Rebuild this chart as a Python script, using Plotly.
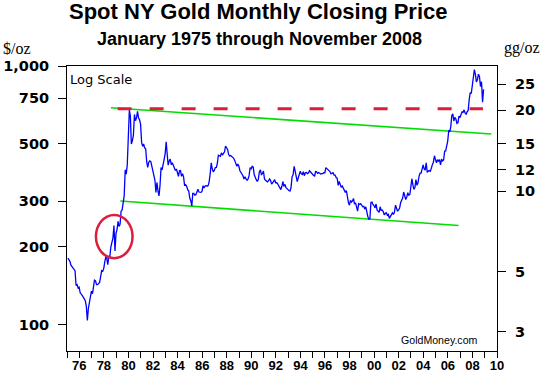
import math
import plotly.graph_objects as go

# ---- monthly closing prices ($/oz) ----
p1975 = [181, 178, 176, 170, 168, 166, 165, 162, 142, 143, 139, 140]
p1976 = [133, 132, 130, 128, 126, 124, 118, 104, 116, 123, 130, 135]
p1977 = [132, 143, 149, 148, 143, 143, 145, 146, 154, 162, 161, 165]
p1978 = [175, 183, 181, 171, 184, 184, 200, 208, 217, 242, 193, 226]
p1979 = [234, 251, 240, 245, 275, 278, 296, 315, 397, 382, 416, 524]
p1980 = [675, 640, 500, 515, 540, 650, 615, 630, 668, 630, 620, 595]
p1981 = [506, 489, 500, 483, 479, 426, 406, 425, 430, 427, 412, 397]
p1982 = [385, 362, 325, 355, 330, 315, 345, 405, 397, 423, 436, 458]
p1983 = [510, 455, 414, 430, 437, 416, 423, 414, 405, 395, 400, 382]
p1984 = [375, 394, 395, 375, 384, 373, 345, 348, 343, 333, 329, 309]
p1985 = [302, 288, 322, 322, 317, 318, 327, 334, 326, 325, 325, 328]
p1986 = [345, 338, 344, 345, 343, 345, 357, 384, 423, 401, 390, 395]
p1987 = [405, 406, 421, 452, 451, 448, 462, 453, 460, 466, 490, 484]
p1988 = [476, 455, 449, 451, 447, 443, 440, 431, 415, 410, 418, 410]
p1989 = [394, 388, 383, 377, 366, 373, 366, 362, 366, 378, 405, 401]
p1990 = [410, 407, 381, 370, 364, 358, 364, 390, 397, 381, 384, 393]
p1991 = [366, 362, 358, 357, 360, 366, 362, 350, 354, 358, 364, 354]
p1992 = [354, 350, 343, 337, 333, 343, 358, 343, 349, 339, 334, 333]
p1993 = [330, 329, 340, 374, 380, 410, 393, 372, 358, 370, 387, 392]
p1994 = [383, 381, 391, 377, 387, 388, 384, 386, 394, 389, 385, 383]
p1995 = [378, 376, 391, 390, 385, 388, 384, 383, 384, 384, 387, 387]
p1996 = [405, 401, 396, 392, 391, 383, 385, 387, 379, 379, 371, 369]
p1997 = [346, 358, 349, 340, 344, 336, 327, 325, 330, 311, 297, 290]
p1998 = [303, 298, 301, 308, 293, 296, 288, 275, 294, 292, 294, 288]
p1999 = [286, 287, 280, 286, 270, 262, 256, 257, 297, 298, 292, 289]
p2000 = [283, 293, 278, 276, 272, 286, 277, 278, 274, 266, 270, 272]
p2001 = [265, 267, 258, 263, 268, 271, 267, 273, 290, 279, 275, 278]
p2002 = [283, 297, 302, 309, 326, 318, 305, 312, 324, 317, 319, 342]
p2003 = [367, 347, 334, 339, 364, 346, 354, 375, 386, 386, 398, 415]
p2004 = [400, 396, 423, 388, 393, 395, 391, 407, 416, 425, 450, 436]
p2005 = [423, 435, 428, 435, 415, 437, 430, 434, 469, 470, 493, 513]
p2006 = [565, 557, 582, 644, 653, 613, 633, 624, 600, 604, 640, 632]
p2007 = [650, 665, 662, 677, 659, 650, 666, 673, 743, 789, 783, 834]
p2008 = [923, 968, 933, 868, 885, 930, 912, 833, 870, 725, 812]

yearly = [p1975, p1976, p1977, p1978, p1979, p1980, p1981, p1982, p1983,
          p1984, p1985, p1986, p1987, p1988, p1989, p1990, p1991, p1992,
          p1993, p1994, p1995, p1996, p1997, p1998, p1999, p2000, p2001,
          p2002, p2003, p2004, p2005, p2006, p2007, p2008]
first_year = 1975

# ---- trend / reference lines ----
upper_trend_dates = ["1978-07-31", "2009-07-14"]
upper_trend_vals = [690, 546]
lower_trend_dates = ["1979-05-05", "2006-11-14"]
lower_trend_vals = [301, 242]
resist_dates = ["1979-02-14", "2008-11-10"]
resist_vals = [683, 683]

# circle highlight (date span, price span)
circle_dates = ["1977-05-10", "1980-05-03"]
circle_prices = [181, 266]

# ---- axis ticks ----
left_ticks = [100, 200, 300, 500, 750, 1000]
left_tick_text = ["100", "200", "300", "500", "750", "1,000"]
right_ticks = [3, 5, 10, 12, 15, 20, 25]
left_range_vals = [79.3, 1000]
right_range_vals = [2.537, 29.2]

dates, prices = [], []
for i, vals in enumerate(yearly):
    for m, v in enumerate(vals):
        dates.append(f"{first_year + i}-{m + 1:02d}-28")
        prices.append(v)

BLUE = "#0000FF"
GREEN = "#00DD00"
RED = "#DC1E3C"

fig = go.Figure()
fig.add_trace(go.Scatter(x=upper_trend_dates, y=upper_trend_vals, mode="lines",
                         line=dict(color=GREEN, width=1.6), hoverinfo="skip"))
fig.add_trace(go.Scatter(x=lower_trend_dates, y=lower_trend_vals, mode="lines",
                         line=dict(color=GREEN, width=1.6), hoverinfo="skip"))
fig.add_trace(go.Scatter(x=resist_dates, y=resist_vals, mode="lines",
                         line=dict(color=RED, width=3, dash="14px,18px"), hoverinfo="skip"))
fig.add_trace(go.Scatter(x=dates, y=prices, mode="lines",
                         line=dict(color=BLUE, width=1.3)))
# invisible anchor trace so the right axis is drawn
fig.add_trace(go.Scatter(x=[dates[0]], y=[10], yaxis="y2", mode="markers",
                         marker=dict(opacity=0), hoverinfo="skip"))

fig.add_shape(type="circle", xref="x", yref="y",
              x0=circle_dates[0], x1=circle_dates[1],
              y0=circle_prices[0], y1=circle_prices[1],
              line=dict(color=RED, width=2.5))

tick_font = dict(family="DejaVu Sans", size=14.5, color="black", weight="bold")

fig.update_layout(
    width=542, height=379,
    margin=dict(l=67, r=45, t=66, b=28),
    paper_bgcolor="white", plot_bgcolor="white",
    showlegend=False,
    xaxis=dict(
        type="date", automargin=False,
        range=["1975-01-01", "2010-01-01"],
        tick0="1976-01-01", dtick="M24", tickformat="%y",
        ticks="outside", ticklen=6, tickcolor="black", tickwidth=1,
        minor=dict(dtick="M12", tick0="1975-01-01", ticks="outside",
                   ticklen=6, tickcolor="black", tickwidth=1, showgrid=False),
        showline=True, linecolor="black", linewidth=1, mirror=True,
        showgrid=False, zeroline=False,
        tickfont=dict(family="Liberation Sans", size=13, color="black", weight="bold"),
        ticklabelstandoff=-4,
    ),
    yaxis=dict(
        type="log", automargin=False,
        range=[math.log10(left_range_vals[0]), math.log10(left_range_vals[1])],
        tickvals=left_ticks, ticktext=left_tick_text,
        ticks="outside", ticklen=8, tickcolor="black",
        showline=True, linecolor="black", linewidth=1,
        showgrid=False, zeroline=False,
        tickfont=tick_font, ticklabelstandoff=6,
    ),
    yaxis2=dict(
        type="log", overlaying="y", side="right", anchor="x", automargin=False,
        range=[math.log10(right_range_vals[0]), math.log10(right_range_vals[1])],
        tickvals=right_ticks, ticktext=[str(v) for v in right_ticks],
        ticks="outside", ticklen=8, tickcolor="black",
        showline=True, linecolor="black", linewidth=1,
        showgrid=False, zeroline=False,
        tickfont=dict(family="DejaVu Sans", size=14.5, color="black", weight="bold"),
        ticklabelstandoff=6,
    ),
    annotations=[
        dict(text="Spot NY Gold Monthly Closing Price", xref="paper", yref="paper",
             x=(258 - 67) / 430, y=(351 - 11) / 285, xanchor="center", yanchor="middle",
             showarrow=False,
             font=dict(family="Liberation Sans", size=22, color="black", weight="bold")),
        dict(text="January 1975 through November 2008", xref="paper", yref="paper",
             x=(259 - 67) / 430, y=(351 - 39) / 285, xanchor="center", yanchor="middle",
             showarrow=False,
             font=dict(family="Liberation Sans", size=18, color="black", weight="bold")),
        dict(text="$/oz", xref="paper", yref="paper",
             x=(17 - 67) / 430, y=(351 - 48) / 285, xanchor="center", yanchor="middle",
             showarrow=False,
             font=dict(family="Liberation Serif", size=16, color="black")),
        dict(text="gg/oz", xref="paper", yref="paper",
             x=(522 - 67) / 430, y=(351 - 48) / 285, xanchor="center", yanchor="middle",
             showarrow=False,
             font=dict(family="Liberation Serif", size=16, color="black")),
        dict(text="Log Scale", xref="paper", yref="paper",
             x=(68 - 67) / 430, y=(351 - 79) / 285, xanchor="left", yanchor="middle",
             showarrow=False,
             font=dict(family="DejaVu Sans", size=13, color="black")),
        dict(text="GoldMoney.com", xref="paper", yref="paper",
             x=(480 - 67) / 430, y=(351 - 340) / 285, xanchor="right", yanchor="middle",
             showarrow=False,
             font=dict(family="Liberation Sans", size=10.6, color="black")),
    ],
)

fig.write_html("out.html",
               config={"displayModeBar": False},
               post_script="document.body.style.margin='0';document.body.style.overflow='hidden';")
